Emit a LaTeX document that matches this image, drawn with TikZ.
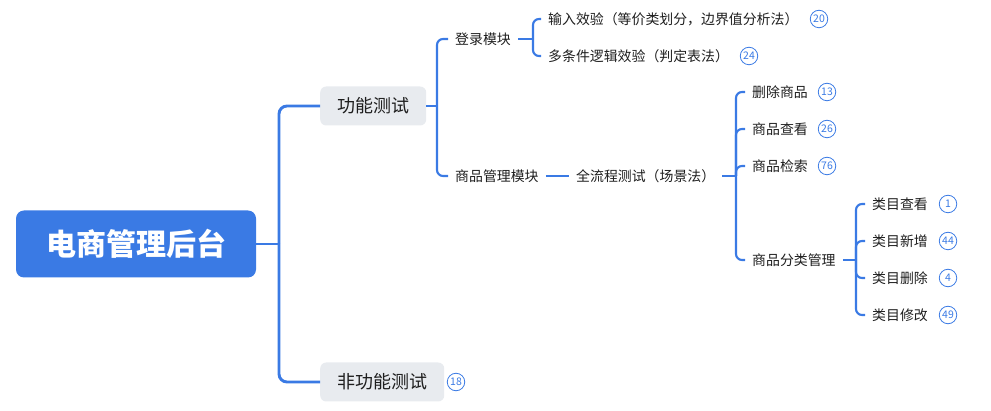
\documentclass[tikz,border=0pt]{standalone}
\usepackage{fontspec}
\setmainfont{Noto Sans CJK SC}
\definecolor{mblue}{HTML}{3A7AE4}
\definecolor{mgray}{HTML}{E8EBEF}
\definecolor{mtext}{HTML}{1E1E1E}
\begin{document}
\begin{tikzpicture}[x=1pt,y=-1pt,
  conn/.style={draw=mblue,line width=2.1pt,rounded corners=6pt},
  rconn/.style={draw=mblue,line width=2.9pt,rounded corners=8pt},
  leaf/.style={anchor=west,inner xsep=7pt,inner ysep=2pt,font=\fontsize{13.9}{16}\selectfont,text=mtext},
  topic/.style={fill=mgray,rounded corners=6pt,minimum height=39pt,inner xsep=15pt,font=\fontsize{18}{21}\selectfont,text=mtext},
  badge/.style={circle,draw=mblue,line width=0.8pt,minimum size=17.5pt,inner sep=0pt,text=mblue,font=\fontsize{10.5}{11}\selectfont}]
\useasboundingbox (0,0) rectangle (991,411);
% root
\node[fill=mblue,rounded corners=8pt,minimum width=240pt,minimum height=67pt,text=white,font=\fontsize{30}{34}\selectfont\bfseries] (root) at (136,244) {电商管理后台};
% level 1
\node[topic,anchor=west,minimum width=106pt] (gn) at (320,106) {功能测试};
\node[topic,anchor=west,minimum width=124pt] (fgn) at (320,382) {非功能测试};
\node[badge] (b18) at (456,382) {18};
\coordinate (j0) at (279,244);
\draw[rconn] (root.east) -- (j0);
\draw[rconn] (j0) |- (gn.west);
\draw[rconn] (j0) |- (fgn.west);
% level 2
\node[leaf] (dl) at (448,39) {登录模块};
\node[leaf] (spgl) at (448,176) {商品管理模块};
\coordinate (j1) at (437,106);
\draw[conn] (gn.east) -- (j1);
\draw[conn] (j1) |- (dl.west);
\draw[conn] (j1) |- (spgl.west);
% login
\node[leaf] (srjy) at (541,19) {输入效验（等价类划分，边界值分析法）};
\node[leaf] (dtj) at (541,56) {多条件逻辑效验（判定表法）};
\node[badge] (b20) at (819,19) {20};
\node[badge] (b24) at (749,56) {24};
\coordinate (j2) at (533,39);
\draw[conn] (dl.east) -- (j2);
\draw[conn] (j2) |- (srjy.west);
\draw[conn] (j2) |- (dtj.west);
% product management
\node[leaf] (qlc) at (569,176) {全流程测试（场景法）};
\draw[conn] (spgl.east) -- (qlc.west);
\node[leaf] (scsp) at (745,92) {删除商品};
\node[leaf] (spck) at (745,129) {商品查看};
\node[leaf] (spjs) at (745,166) {商品检索};
\node[leaf] (spfl) at (745,260) {商品分类管理};
\node[badge] (b13) at (827,92) {13};
\node[badge] (b26) at (827,129) {26};
\node[badge] (b76) at (827,166) {76};
\coordinate (j3) at (736,176);
\draw[conn] (qlc.east) -- (j3);
\foreach \n in {scsp,spck,spjs,spfl} \draw[conn] (j3) |- (\n.west);
% category
\node[leaf] (lmck) at (865,204) {类目查看};
\node[leaf] (lmxz) at (865,241) {类目新增};
\node[leaf] (lmsc) at (865,278) {类目删除};
\node[leaf] (lmxg) at (865,315) {类目修改};
\node[badge] (b1) at (948,204) {1};
\node[badge] (b44) at (948,241) {44};
\node[badge] (b4) at (948,278) {4};
\node[badge] (b49) at (948,315) {49};
\coordinate (j4) at (856,260);
\draw[conn] (spfl.east) -- (j4);
\foreach \n in {lmck,lmxz,lmsc,lmxg} \draw[conn] (j4) |- (\n.west);
\end{tikzpicture}
\end{document}
